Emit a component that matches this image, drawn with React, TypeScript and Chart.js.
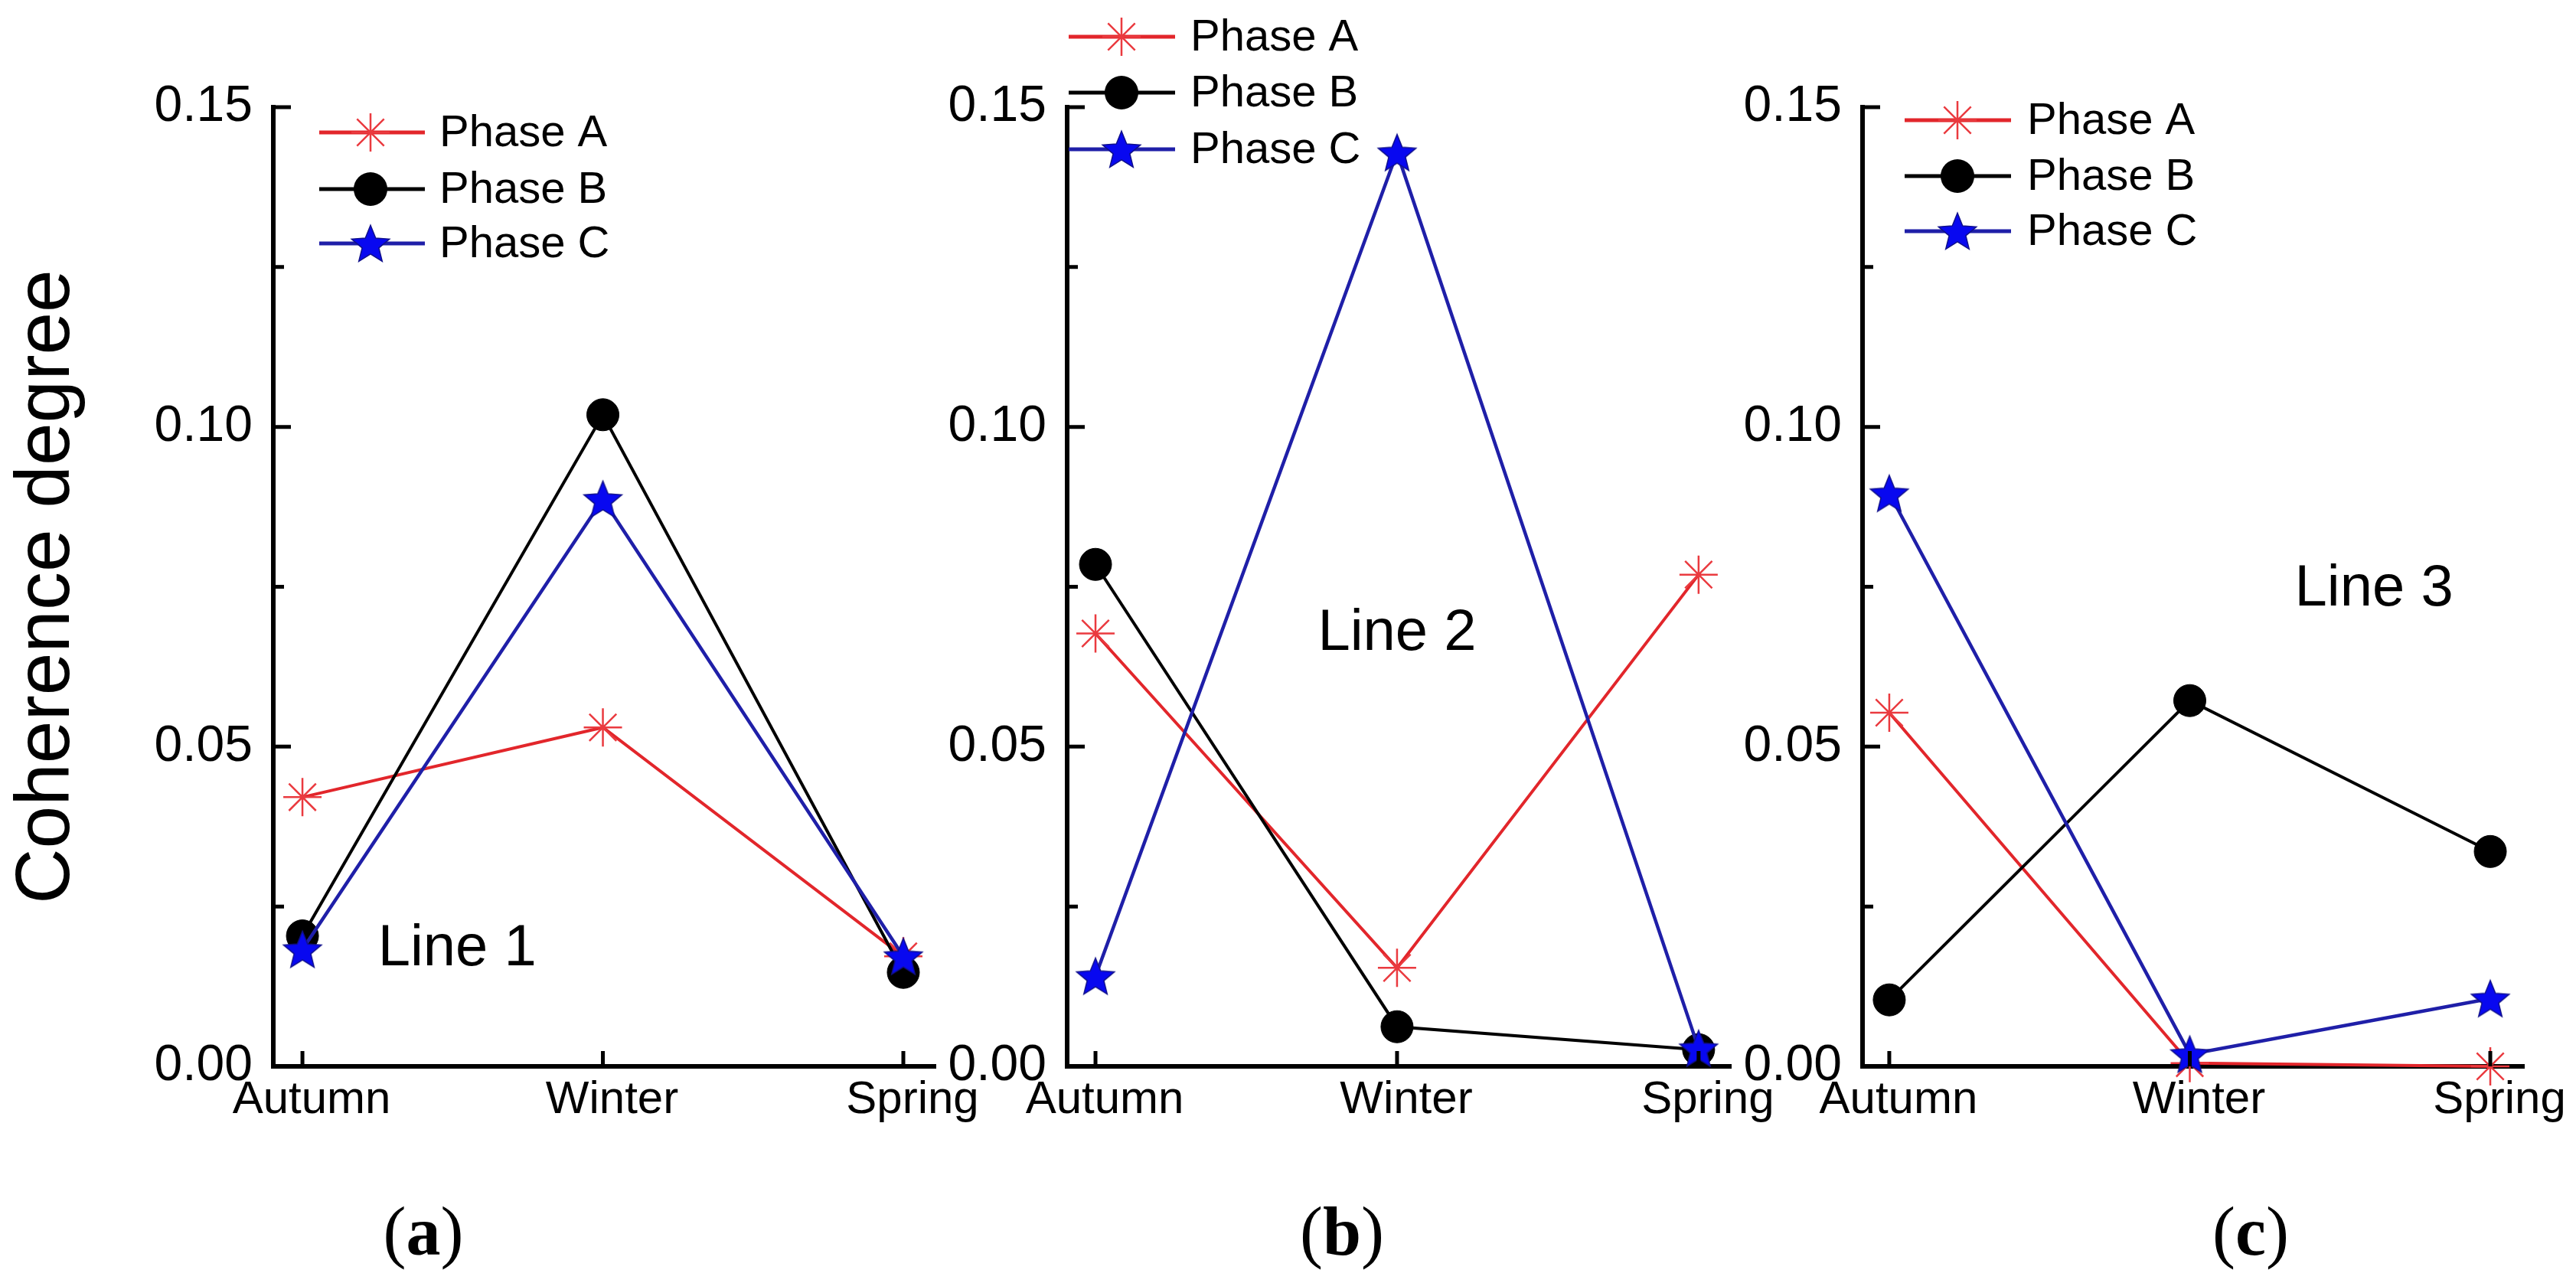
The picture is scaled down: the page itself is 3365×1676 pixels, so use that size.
import React, { useEffect, useRef } from 'react';
import { Chart, registerables } from 'chart.js';

Chart.register(...registerables);

// ---------------- data ----------------
const seasons = ['Autumn', 'Winter', 'Spring'];
const seriesNames = ['Phase A', 'Phase B', 'Phase C'];
const yTickValues = [0, 0.05, 0.1, 0.15];
const yMinorValues = [0.025, 0.075, 0.125];

const line1PhaseA = [0.0421, 0.053, 0.0172];
const line1PhaseB = [0.0204, 0.1019, 0.0147];
const line1PhaseC = [0.0183, 0.0887, 0.0172];

const line2PhaseA = [0.0677, 0.0154, 0.0769];
const line2PhaseB = [0.0785, 0.0062, 0.0026];
const line2PhaseC = [0.0141, 0.1429, 0.0028];

const line3PhaseA = [0.0553, 0.0005, 0.0];
const line3PhaseB = [0.0104, 0.0572, 0.0336];
const line3PhaseC = [0.0896, 0.0019, 0.0106];

const panelNotes = ['Line 1', 'Line 2', 'Line 3'];
const panelLetters = ['a', 'b', 'c'];
const yAxisTitle = 'Coherence degree';

// ---------------- styles / layout ----------------
const FONT = "'Liberation Sans', Arial, Helvetica, sans-serif";
const W = 3365;
const H = 1676;
const PLOT_TOP = 140;
const X_AXIS_H = 283;

const RED_LINE = '#e2262b';
const RED_MARK = '#ea3a3f';
const BLACK = '#000000';
const BLUE_LINE = '#1f1fa8';
const BLUE_MARK = '#0808f0';

const lineColors = [RED_LINE, BLACK, BLUE_LINE];

function makeStarCanvas(outer: number, inner: number, fill: string, stroke: string) {
  const size = Math.ceil(outer * 2 + 6);
  const c = document.createElement('canvas');
  c.width = size;
  c.height = size;
  const g = c.getContext('2d')!;
  const cx = size / 2;
  const cy = size / 2 + outer * 0.09;
  g.beginPath();
  for (let k = 0; k < 10; k++) {
    const r = k % 2 === 0 ? outer : inner;
    const a = -Math.PI / 2 + (k * Math.PI) / 5;
    const px = cx + r * Math.cos(a);
    const py = cy + r * Math.sin(a);
    if (k === 0) g.moveTo(px, py);
    else g.lineTo(px, py);
  }
  g.closePath();
  g.fillStyle = fill;
  g.fill();
  g.lineWidth = 1.5;
  g.strokeStyle = stroke;
  g.stroke();
  return c;
}

let STAR: HTMLCanvasElement | null = null;
function getStar() {
  if (!STAR) STAR = makeStarCanvas(26, 11.5, BLUE_MARK, '#10108a');
  return STAR;
}

type PanelCfg = {
  series: number[][];
  canvasLeft: number;
  canvasWidth: number;
  yWidth: number;
  padRight: number;
  xMin: number;
  xMax: number;
  legLine: [number, number];
  legMarker: number;
  legText: number;
  legRows: number[];
  notePos: [number, number];
  letterX: number;
  showTitle: boolean;
};

const PANELS: PanelCfg[] = [
  {
    series: [line1PhaseA, line1PhaseB, line1PhaseC],
    canvasLeft: 0,
    canvasWidth: 1300,
    yWidth: 357,
    padRight: 78,
    xMin: -0.097,
    xMax: 2.107,
    legLine: [60, 198],
    legMarker: 127,
    legText: 217,
    legRows: [33, 107, 178],
    notePos: [0.515, 0.0183],
    letterX: 553,
    showTitle: true,
  },
  {
    series: [line2PhaseA, line2PhaseB, line2PhaseC],
    canvasLeft: 1144,
    canvasWidth: 1196,
    yWidth: 250,
    padRight: 79,
    xMin: -0.094,
    xMax: 2.107,
    legLine: [2, 141],
    legMarker: 71,
    legText: 161,
    legRows: [-92, -19, 55],
    notePos: [1.0, 0.0676],
    letterX: 1753,
    showTitle: false,
  },
  {
    series: [line3PhaseA, line3PhaseB, line3PhaseC],
    canvasLeft: 2183,
    canvasWidth: 1182,
    yWidth: 250,
    padRight: 68,
    xMin: -0.089,
    xMax: 2.112,
    legLine: [55, 194],
    legMarker: 124,
    legText: 215,
    legRows: [17, 90, 162],
    notePos: [1.613, 0.0746],
    letterX: 2940,
    showTitle: false,
  },
];

function drawMarker(ctx: CanvasRenderingContext2D, kind: number, x: number, y: number) {
  ctx.save();
  if (kind === 0) {
    const r = 25;
    ctx.strokeStyle = RED_MARK;
    ctx.lineWidth = 2.5;
    ctx.beginPath();
    for (let k = 0; k < 4; k++) {
      const a = (k * Math.PI) / 4;
      ctx.moveTo(x - r * Math.cos(a), y - r * Math.sin(a));
      ctx.lineTo(x + r * Math.cos(a), y + r * Math.sin(a));
    }
    ctx.stroke();
  } else if (kind === 1) {
    ctx.fillStyle = BLACK;
    ctx.beginPath();
    ctx.arc(x, y, 22, 0, Math.PI * 2);
    ctx.fill();
  } else {
    const s = getStar();
    ctx.drawImage(s, x - s.width / 2, y - s.height / 2);
  }
  ctx.restore();
}

function makeConfig(p: PanelCfg, idx: number): any {
  const datasets = p.series.map((vals, i) => {
    const base: any = {
      label: seriesNames[i],
      data: vals.map((v, k) => ({ x: k, y: v })),
      borderColor: lineColors[i],
      borderWidth: i === 2 ? 4.5 : 4,
      fill: false,
      tension: 0,
      clip: false,
      order: 3 - i,
    };
    if (i === 0) {
      base.pointStyle = 'star';
      base.pointRadius = 25;
      base.pointBorderWidth = 2.5;
      base.pointBorderColor = RED_MARK;
      base.pointBackgroundColor = RED_MARK;
    } else if (i === 1) {
      base.pointStyle = 'circle';
      base.pointRadius = 21;
      base.pointBorderWidth = 1;
      base.pointBorderColor = BLACK;
      base.pointBackgroundColor = BLACK;
    } else {
      base.pointStyle = getStar();
      base.pointRadius = 26;
      base.pointBorderWidth = 0;
      base.pointBackgroundColor = BLUE_MARK;
    }
    base.pointHoverRadius = base.pointRadius;
    return base;
  });

  const decor = {
    id: 'decor' + idx,
    afterDraw(chart: any) {
      const ctx: CanvasRenderingContext2D = chart.ctx;
      const { left, top, bottom } = chart.chartArea;
      const xs = chart.scales.x;
      const ys = chart.scales.y;
      ctx.save();
      // inward ticks
      ctx.strokeStyle = '#000';
      ctx.lineWidth = 5;
      ctx.beginPath();
      yTickValues.slice(1).forEach((v) => {
        const py = ys.getPixelForValue(v);
        ctx.moveTo(left, py);
        ctx.lineTo(left + 23, py);
      });
      yMinorValues.forEach((v) => {
        const py = ys.getPixelForValue(v);
        ctx.moveTo(left, py);
        ctx.lineTo(left + 14, py);
      });
      seasons.forEach((_, k) => {
        const px = xs.getPixelForValue(k);
        ctx.moveTo(px, bottom);
        ctx.lineTo(px, bottom - 20);
      });
      ctx.stroke();

      // legend
      p.legRows.forEach((r, i) => {
        const y = top + r;
        ctx.strokeStyle = lineColors[i];
        ctx.lineWidth = 5;
        ctx.beginPath();
        ctx.moveTo(left + p.legLine[0], y);
        ctx.lineTo(left + p.legLine[1], y);
        ctx.stroke();
        drawMarker(ctx, i, left + p.legMarker, y);
        ctx.fillStyle = '#000';
        ctx.font = `58px ${FONT}`;
        ctx.textAlign = 'left';
        ctx.textBaseline = 'middle';
        ctx.fillText(seriesNames[i], left + p.legText, y + 2);
      });

      // panel note
      ctx.fillStyle = '#000';
      ctx.font = `76px ${FONT}`;
      ctx.textAlign = 'center';
      ctx.textBaseline = 'middle';
      ctx.fillText(
        panelNotes[idx],
        xs.getPixelForValue(p.notePos[0]),
        ys.getPixelForValue(p.notePos[1])
      );
      ctx.restore();
    },
  };

  return {
    type: 'line',
    data: { datasets },
    plugins: [decor],
    options: {
      responsive: false,
      maintainAspectRatio: false,
      animation: false,
      devicePixelRatio: 1,
      events: [],
      layout: { padding: { left: 0, right: p.padRight, top: PLOT_TOP, bottom: 0 } },
      plugins: {
        legend: { display: false },
        tooltip: { enabled: false },
        title: { display: false },
      },
      scales: {
        x: {
          type: 'linear',
          min: p.xMin,
          max: p.xMax,
          grid: { display: false, drawTicks: false },
          border: { display: true, color: '#000', width: 6 },
          ticks: {
            color: '#000',
            font: { family: FONT, size: 60 },
            padding: 8,
            labelOffset: 12,
            autoSkip: false,
            maxRotation: 0,
            minRotation: 0,
            callback: (v: number) => seasons[Math.round(v)] ?? '',
          },
          afterBuildTicks: (s: any) => {
            s.ticks = seasons.map((_, k) => ({ value: k }));
          },
          afterFit: (s: any) => {
            s.height = X_AXIS_H;
          },
        },
        y: {
          type: 'linear',
          min: 0,
          max: 0.15,
          grid: { display: false, drawTicks: false },
          border: { display: true, color: '#000', width: 6 },
          ticks: {
            color: '#000',
            font: { family: FONT, size: 66 },
            padding: 27,
            callback: (v: number) => Number(v).toFixed(2),
          },
          afterBuildTicks: (s: any) => {
            s.ticks = yTickValues.map((v) => ({ value: v }));
          },
          afterFit: (s: any) => {
            s.width = p.yWidth;
          },
          title: {
            display: p.showTitle,
            text: yAxisTitle,
            color: '#000',
            font: { family: FONT, size: 100 },
            padding: { top: 2, bottom: 0 },
          },
        },
      },
    },
  };
}

function Panel({ idx }: { idx: number }) {
  const ref = useRef<HTMLCanvasElement>(null);
  const p = PANELS[idx];
  useEffect(() => {
    const chart = new Chart(ref.current as HTMLCanvasElement, makeConfig(p, idx));
    return () => chart.destroy();
  }, [idx]);
  return (
    <canvas
      ref={ref}
      width={p.canvasWidth}
      height={H}
      style={{ position: 'absolute', left: p.canvasLeft, top: 0, width: p.canvasWidth, height: H }}
    />
  );
}

export default function App() {
  return (
    <div
      style={{
        position: 'absolute',
        left: 0,
        top: 0,
        width: W,
        height: H,
        background: '#ffffff',
        overflow: 'hidden',
      }}
    >
      {PANELS.map((_, i) => (
        <Panel key={i} idx={i} />
      ))}
      {PANELS.map((p, i) => (
        <div
          key={'l' + i}
          style={{
            position: 'absolute',
            left: p.letterX - 100,
            top: 1559,
            width: 200,
            textAlign: 'center',
            fontFamily: "'Liberation Serif', 'Times New Roman', serif",
            fontSize: 90,
            lineHeight: '100px',
            color: '#000',
          }}
        >
          (<b>{panelLetters[i]}</b>)
        </div>
      ))}
    </div>
  );
}
